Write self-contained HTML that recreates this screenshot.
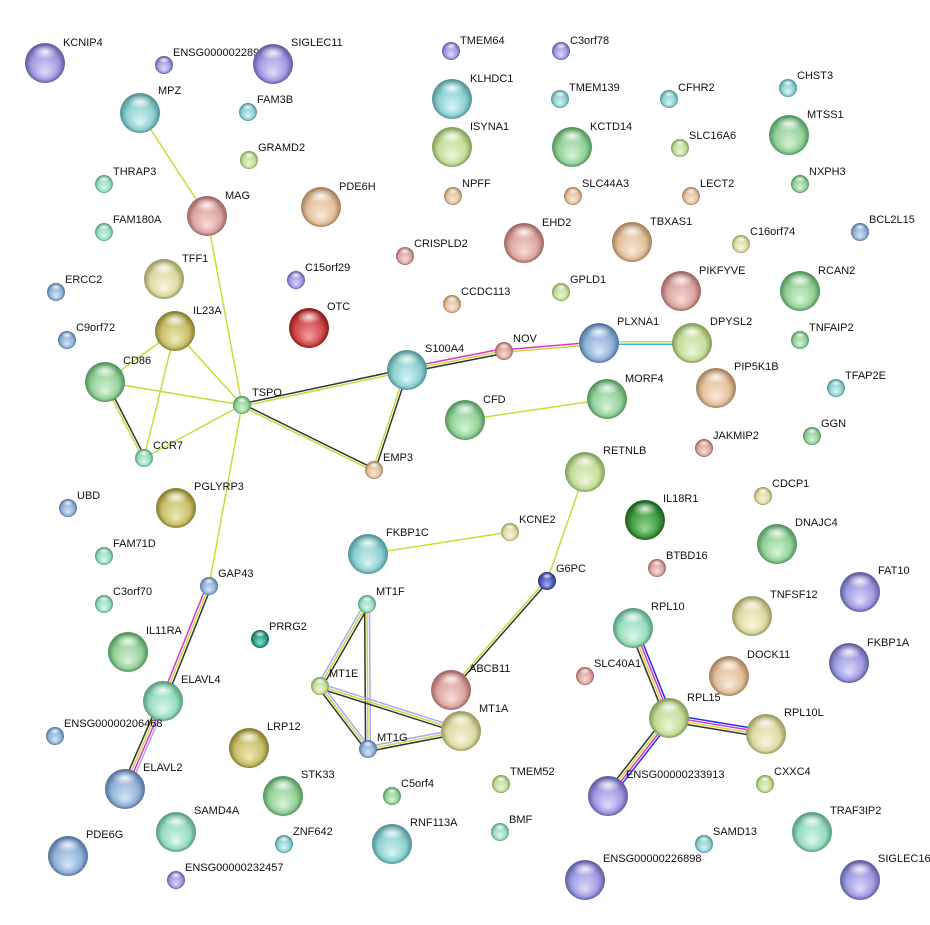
<!DOCTYPE html>
<html><head><meta charset="utf-8"><style>
html,body{margin:0;padding:0;background:#fff;}
svg{display:block;}
text{font-family:"Liberation Sans",Arial,sans-serif;font-size:11px;fill:#111;}
</style></head><body>
<svg id="s" width="930" height="925" viewBox="0 0 930 925" xmlns="http://www.w3.org/2000/svg">
<defs>
<radialGradient id="cy" cx="50%" cy="50%" r="50%" fx="50%" fy="75%"><stop offset="0" stop-color="#d8f6f6"/><stop offset=".7" stop-color="#8ccfd0"/><stop offset="1" stop-color="#4f8f92"/></radialGradient>
<radialGradient id="bl" cx="50%" cy="50%" r="50%" fx="50%" fy="75%"><stop offset="0" stop-color="#d6e6f8"/><stop offset=".7" stop-color="#90b0d8"/><stop offset="1" stop-color="#50709a"/></radialGradient>
<radialGradient id="pu" cx="50%" cy="50%" r="50%" fx="50%" fy="75%"><stop offset="0" stop-color="#dedcfa"/><stop offset=".7" stop-color="#9c9ae0"/><stop offset="1" stop-color="#5c5a9c"/></radialGradient>
<radialGradient id="gr" cx="50%" cy="50%" r="50%" fx="50%" fy="75%"><stop offset="0" stop-color="#daf4d8"/><stop offset=".7" stop-color="#92d098"/><stop offset="1" stop-color="#4f8f58"/></radialGradient>
<radialGradient id="mi" cx="50%" cy="50%" r="50%" fx="50%" fy="75%"><stop offset="0" stop-color="#dcf8ec"/><stop offset=".7" stop-color="#96dcbc"/><stop offset="1" stop-color="#56987c"/></radialGradient>
<radialGradient id="yg" cx="50%" cy="50%" r="50%" fx="50%" fy="75%"><stop offset="0" stop-color="#eef6da"/><stop offset=".7" stop-color="#c4dc98"/><stop offset="1" stop-color="#7e9a56"/></radialGradient>
<radialGradient id="ye" cx="50%" cy="50%" r="50%" fx="50%" fy="75%"><stop offset="0" stop-color="#f8f6e0"/><stop offset=".7" stop-color="#dcdaa2"/><stop offset="1" stop-color="#98965c"/></radialGradient>
<radialGradient id="tn" cx="50%" cy="50%" r="50%" fx="50%" fy="75%"><stop offset="0" stop-color="#faeadc"/><stop offset=".7" stop-color="#e2c09c"/><stop offset="1" stop-color="#a07c58"/></radialGradient>
<radialGradient id="pk" cx="50%" cy="50%" r="50%" fx="50%" fy="75%"><stop offset="0" stop-color="#f8dcd8"/><stop offset=".7" stop-color="#dca4a0"/><stop offset="1" stop-color="#9a625e"/></radialGradient>
<radialGradient id="rd" cx="50%" cy="50%" r="50%" fx="50%" fy="75%"><stop offset="0" stop-color="#f4a0a0"/><stop offset=".7" stop-color="#d04848"/><stop offset="1" stop-color="#8a1818"/></radialGradient>
<radialGradient id="ol" cx="50%" cy="50%" r="50%" fx="50%" fy="75%"><stop offset="0" stop-color="#f0eab8"/><stop offset=".7" stop-color="#c8be6a"/><stop offset="1" stop-color="#847a2c"/></radialGradient>
<radialGradient id="dg" cx="50%" cy="50%" r="50%" fx="50%" fy="75%"><stop offset="0" stop-color="#9ed89a"/><stop offset=".7" stop-color="#3c9a3e"/><stop offset="1" stop-color="#1c5a1e"/></radialGradient>
<radialGradient id="db" cx="50%" cy="50%" r="50%" fx="50%" fy="75%"><stop offset="0" stop-color="#aab4ee"/><stop offset=".7" stop-color="#4a58b8"/><stop offset="1" stop-color="#24307a"/></radialGradient>
<radialGradient id="tl" cx="50%" cy="50%" r="50%" fx="50%" fy="75%"><stop offset="0" stop-color="#8ee0d0"/><stop offset=".7" stop-color="#2c9a88"/><stop offset="1" stop-color="#166050"/></radialGradient>
<radialGradient id="hl" cx="50%" cy="50%" r="50%"><stop offset="0" stop-color="#fff" stop-opacity=".85"/><stop offset="1" stop-color="#fff" stop-opacity="0"/></radialGradient>
</defs>
<g id="edges"></g>
<g id="nodes">
<circle cx="45" cy="63" r="20" fill="url(#pu)"/><text x="63" y="46">KCNIP4</text>
<circle cx="164" cy="65" r="9" fill="url(#pu)"/><text x="173" y="56">ENSG00000228913</text>
<circle cx="273" cy="64" r="20" fill="url(#pu)"/><text x="291" y="46">SIGLEC11</text>
<circle cx="451" cy="51" r="9" fill="url(#pu)"/><text x="460" y="44">TMEM64</text>
<circle cx="561" cy="51" r="9" fill="url(#pu)"/><text x="570" y="44">C3orf78</text>
<circle cx="140" cy="113" r="20" fill="url(#cy)"/><text x="158" y="94">MPZ</text>
<circle cx="248" cy="112" r="9" fill="url(#cy)"/><text x="257" y="103">FAM3B</text>
<circle cx="452" cy="99" r="20" fill="url(#cy)"/><text x="470" y="82">KLHDC1</text>
<circle cx="560" cy="99" r="9" fill="url(#cy)"/><text x="569" y="91">TMEM139</text>
<circle cx="669" cy="99" r="9" fill="url(#cy)"/><text x="678" y="91">CFHR2</text>
<circle cx="788" cy="88" r="9" fill="url(#cy)"/><text x="797" y="79">CHST3</text>
<circle cx="789" cy="135" r="20" fill="url(#gr)"/><text x="807" y="118">MTSS1</text>
<circle cx="249" cy="160" r="9" fill="url(#yg)"/><text x="258" y="151">GRAMD2</text>
<circle cx="452" cy="147" r="20" fill="url(#yg)"/><text x="470" y="130">ISYNA1</text>
<circle cx="572" cy="147" r="20" fill="url(#gr)"/><text x="590" y="130">KCTD14</text>
<circle cx="680" cy="148" r="9" fill="url(#yg)"/><text x="689" y="139">SLC16A6</text>
<circle cx="104" cy="184" r="9" fill="url(#mi)"/><text x="113" y="175">THRAP3</text>
<circle cx="800" cy="184" r="9" fill="url(#gr)"/><text x="809" y="175">NXPH3</text>
<circle cx="207" cy="216" r="20" fill="url(#pk)"/><text x="225" y="199">MAG</text>
<circle cx="321" cy="207" r="20" fill="url(#tn)"/><text x="339" y="190">PDE6H</text>
<circle cx="453" cy="196" r="9" fill="url(#tn)"/><text x="462" y="187">NPFF</text>
<circle cx="573" cy="196" r="9" fill="url(#tn)"/><text x="582" y="187">SLC44A3</text>
<circle cx="691" cy="196" r="9" fill="url(#tn)"/><text x="700" y="187">LECT2</text>
<circle cx="104" cy="232" r="9" fill="url(#mi)"/><text x="113" y="223">FAM180A</text>
<circle cx="524" cy="243" r="20" fill="url(#pk)"/><text x="542" y="226">EHD2</text>
<circle cx="632" cy="242" r="20" fill="url(#tn)"/><text x="650" y="225">TBXAS1</text>
<circle cx="860" cy="232" r="9" fill="url(#bl)"/><text x="869" y="223">BCL2L15</text>
<circle cx="405" cy="256" r="9" fill="url(#pk)"/><text x="414" y="247">CRISPLD2</text>
<circle cx="741" cy="244" r="9" fill="url(#ye)"/><text x="750" y="235">C16orf74</text>
<circle cx="164" cy="279" r="20" fill="url(#ye)"/><text x="182" y="262">TFF1</text>
<circle cx="296" cy="280" r="9" fill="url(#pu)"/><text x="305" y="271">C15orf29</text>
<circle cx="309" cy="328" r="20" fill="url(#rd)"/><text x="327" y="310">OTC</text>
<circle cx="561" cy="292" r="9" fill="url(#yg)"/><text x="570" y="283">GPLD1</text>
<circle cx="56" cy="292" r="9" fill="url(#bl)"/><text x="65" y="283">ERCC2</text>
<circle cx="681" cy="291" r="20" fill="url(#pk)"/><text x="699" y="274">PIKFYVE</text>
<circle cx="800" cy="291" r="20" fill="url(#gr)"/><text x="818" y="274">RCAN2</text>
<circle cx="452" cy="304" r="9" fill="url(#tn)"/><text x="461" y="295">CCDC113</text>
<circle cx="67" cy="340" r="9" fill="url(#bl)"/><text x="76" y="331">C9orf72</text>
<circle cx="175" cy="331" r="20" fill="url(#ol)"/><text x="193" y="314">IL23A</text>
<circle cx="800" cy="340" r="9" fill="url(#gr)"/><text x="809" y="331">TNFAIP2</text>
<circle cx="599" cy="343" r="20" fill="url(#bl)"/><text x="617" y="325">PLXNA1</text>
<circle cx="692" cy="343" r="20" fill="url(#yg)"/><text x="710" y="325">DPYSL2</text>
<circle cx="504" cy="351" r="9" fill="url(#pk)"/><text x="513" y="342">NOV</text>
<circle cx="407" cy="370" r="20" fill="url(#cy)"/><text x="425" y="352">S100A4</text>
<circle cx="105" cy="382" r="20" fill="url(#gr)"/><text x="123" y="364">CD86</text>
<circle cx="716" cy="388" r="20" fill="url(#tn)"/><text x="734" y="370">PIP5K1B</text>
<circle cx="836" cy="388" r="9" fill="url(#cy)"/><text x="845" y="379">TFAP2E</text>
<circle cx="242" cy="405" r="9" fill="url(#gr)"/><text x="252" y="396">TSPO</text>
<circle cx="607" cy="399" r="20" fill="url(#gr)"/><text x="625" y="382">MORF4</text>
<circle cx="465" cy="420" r="20" fill="url(#gr)"/><text x="483" y="403">CFD</text>
<circle cx="812" cy="436" r="9" fill="url(#gr)"/><text x="821" y="427">GGN</text>
<circle cx="144" cy="458" r="9" fill="url(#mi)"/><text x="153" y="449">CCR7</text>
<circle cx="704" cy="448" r="9" fill="url(#pk)"/><text x="713" y="439">JAKMIP2</text>
<circle cx="374" cy="470" r="9" fill="url(#tn)"/><text x="383" y="461">EMP3</text>
<circle cx="585" cy="472" r="20" fill="url(#yg)"/><text x="603" y="454">RETNLB</text>
<circle cx="763" cy="496" r="9" fill="url(#ye)"/><text x="772" y="487">CDCP1</text>
<circle cx="68" cy="508" r="9" fill="url(#bl)"/><text x="77" y="499">UBD</text>
<circle cx="176" cy="508" r="20" fill="url(#ol)"/><text x="194" y="490">PGLYRP3</text>
<circle cx="645" cy="520" r="20" fill="url(#dg)"/><text x="663" y="502">IL18R1</text>
<circle cx="777" cy="544" r="20" fill="url(#gr)"/><text x="795" y="526">DNAJC4</text>
<circle cx="368" cy="554" r="20" fill="url(#cy)"/><text x="386" y="536">FKBP1C</text>
<circle cx="510" cy="532" r="9" fill="url(#ye)"/><text x="519" y="523">KCNE2</text>
<circle cx="104" cy="556" r="9" fill="url(#mi)"/><text x="113" y="547">FAM71D</text>
<circle cx="657" cy="568" r="9" fill="url(#pk)"/><text x="666" y="559">BTBD16</text>
<circle cx="547" cy="581" r="9" fill="url(#db)"/><text x="556" y="572">G6PC</text>
<circle cx="209" cy="586" r="9" fill="url(#bl)"/><text x="218" y="577">GAP43</text>
<circle cx="860" cy="592" r="20" fill="url(#pu)"/><text x="878" y="574">FAT10</text>
<circle cx="104" cy="604" r="9" fill="url(#mi)"/><text x="113" y="595">C3orf70</text>
<circle cx="367" cy="604" r="9" fill="url(#mi)"/><text x="376" y="595">MT1F</text>
<circle cx="752" cy="616" r="20" fill="url(#ye)"/><text x="770" y="598">TNFSF12</text>
<circle cx="633" cy="628" r="20" fill="url(#mi)"/><text x="651" y="610">RPL10</text>
<circle cx="260" cy="639" r="9" fill="url(#tl)"/><text x="269" y="630">PRRG2</text>
<circle cx="128" cy="652" r="20" fill="url(#gr)"/><text x="146" y="634">IL11RA</text>
<circle cx="849" cy="663" r="20" fill="url(#pu)"/><text x="867" y="646">FKBP1A</text>
<circle cx="585" cy="676" r="9" fill="url(#pk)"/><text x="594" y="667">SLC40A1</text>
<circle cx="320" cy="686" r="9" fill="url(#yg)"/><text x="329" y="677">MT1E</text>
<circle cx="451" cy="690" r="20" fill="url(#pk)"/><text x="469" y="672">ABCB11</text>
<circle cx="729" cy="676" r="20" fill="url(#tn)"/><text x="747" y="658">DOCK11</text>
<circle cx="163" cy="701" r="20" fill="url(#mi)"/><text x="181" y="683">ELAVL4</text>
<circle cx="669" cy="718" r="20" fill="url(#yg)"/><text x="687" y="701">RPL15</text>
<circle cx="461" cy="731" r="20" fill="url(#ye)"/><text x="479" y="712">MT1A</text>
<circle cx="766" cy="734" r="20" fill="url(#ye)"/><text x="784" y="716">RPL10L</text>
<circle cx="55" cy="736" r="9" fill="url(#bl)"/><text x="64" y="727">ENSG00000206468</text>
<circle cx="249" cy="748" r="20" fill="url(#ol)"/><text x="267" y="730">LRP12</text>
<circle cx="368" cy="749" r="9" fill="url(#bl)"/><text x="377" y="741">MT1G</text>
<circle cx="125" cy="789" r="20" fill="url(#bl)"/><text x="143" y="771">ELAVL2</text>
<circle cx="283" cy="796" r="20" fill="url(#gr)"/><text x="301" y="778">STK33</text>
<circle cx="392" cy="796" r="9" fill="url(#gr)"/><text x="401" y="787">C5orf4</text>
<circle cx="501" cy="784" r="9" fill="url(#yg)"/><text x="510" y="775">TMEM52</text>
<circle cx="765" cy="784" r="9" fill="url(#yg)"/><text x="774" y="775">CXXC4</text>
<circle cx="608" cy="796" r="20" fill="url(#pu)"/><text x="626" y="778">ENSG00000233913</text>
<circle cx="176" cy="832" r="20" fill="url(#mi)"/><text x="194" y="814">SAMD4A</text>
<circle cx="500" cy="832" r="9" fill="url(#mi)"/><text x="509" y="823">BMF</text>
<circle cx="392" cy="844" r="20" fill="url(#cy)"/><text x="410" y="826">RNF113A</text>
<circle cx="284" cy="844" r="9" fill="url(#cy)"/><text x="293" y="835">ZNF642</text>
<circle cx="812" cy="832" r="20" fill="url(#mi)"/><text x="830" y="814">TRAF3IP2</text>
<circle cx="704" cy="844" r="9" fill="url(#cy)"/><text x="713" y="835">SAMD13</text>
<circle cx="68" cy="856" r="20" fill="url(#bl)"/><text x="86" y="838">PDE6G</text>
<circle cx="176" cy="880" r="9" fill="url(#pu)"/><text x="185" y="871">ENSG00000232457</text>
<circle cx="585" cy="880" r="20" fill="url(#pu)"/><text x="603" y="862">ENSG00000226898</text>
<circle cx="860" cy="880" r="20" fill="url(#pu)"/><text x="878" y="862">SIGLEC16</text>
</g>
</svg>
<script>
(function(){
var P={MPZ:[140,113],MAG:[207,216],TSPO:[242,405],IL23A:[175,331],CD86:[105,382],CCR7:[144,458],S100A4:[407,370],EMP3:[374,470],GAP43:[209,586],NOV:[504,351],PLXNA1:[599,343],DPYSL2:[692,343],CFD:[465,420],MORF4:[607,399],RETNLB:[585,472],G6PC:[547,581],FKBP1C:[368,554],KCNE2:[510,532],ABCB11:[451,690],ELAVL4:[163,701],ELAVL2:[125,789],MT1F:[367,604],MT1E:[320,686],MT1G:[368,749],MT1A:[461,731],RPL10:[633,628],RPL15:[669,718],RPL10L:[766,734],E233:[608,796]};
var Y='#c6dc3a',K='#333',M='#e030d0',B='#2030f0',L='#a8a8f8',C='#30b8e0';
var E=[['MPZ','MAG',[Y]],['MAG','TSPO',[Y]],['IL23A','TSPO',[Y]],['IL23A','CD86',[Y]],['IL23A','CCR7',[Y]],['CD86','TSPO',[Y]],['CD86','CCR7',[K,Y]],['CCR7','TSPO',[Y]],['TSPO','S100A4',[K,Y]],['TSPO','EMP3',[K,Y]],['TSPO','GAP43',[Y]],['S100A4','EMP3',[K,Y]],['S100A4','NOV',[M,Y,K]],['NOV','PLXNA1',[M,Y]],['PLXNA1','DPYSL2',[Y,C]],['CFD','MORF4',[Y]],['RETNLB','G6PC',[Y]],['FKBP1C','KCNE2',[Y]],['G6PC','ABCB11',[K,Y]],['GAP43','ELAVL4',[K,Y,M]],['ELAVL4','ELAVL2',[L,M,Y,K]],['MT1F','MT1E',[K,Y,L]],['MT1F','MT1G',[L,Y,K]],['MT1E','MT1A',[L,Y,K]],['MT1E','MT1G',[L,Y,K]],['MT1G','MT1A',[L,Y,K]],['RPL10','RPL15',[B,M,Y,K]],['RPL15','RPL10L',[B,M,Y,K]],['RPL15','E233',[B,M,Y,K]]];
var g=document.getElementById('edges'),ns='http://www.w3.org/2000/svg';
E.forEach(function(e){var a=P[e[0]],b=P[e[1]],c=e[2];var dx=b[0]-a[0],dy=b[1]-a[1],l=Math.sqrt(dx*dx+dy*dy),nx=-dy/l,ny=dx/l;var n=c.length;
c.forEach(function(col,i){var o=(i-(n-1)/2)*2.4;var ln=document.createElementNS(ns,'line');ln.setAttribute('x1',a[0]+nx*o);ln.setAttribute('y1',a[1]+ny*o);ln.setAttribute('x2',b[0]+nx*o);ln.setAttribute('y2',b[1]+ny*o);ln.setAttribute('stroke',col);ln.setAttribute('stroke-width','1.5');g.appendChild(ln);});});
var cs=document.querySelectorAll('#nodes circle');
cs.forEach(function(c){var r=+c.getAttribute('r'),x=+c.getAttribute('cx'),y=+c.getAttribute('cy');var h=document.createElementNS(ns,'ellipse');h.setAttribute('cx',x);h.setAttribute('cy',y-r*0.55);h.setAttribute('rx',r*0.6);h.setAttribute('ry',r*0.35);h.setAttribute('fill','url(#hl)');c.parentNode.insertBefore(h,c.nextSibling);});
})();
</script>
</body></html>
